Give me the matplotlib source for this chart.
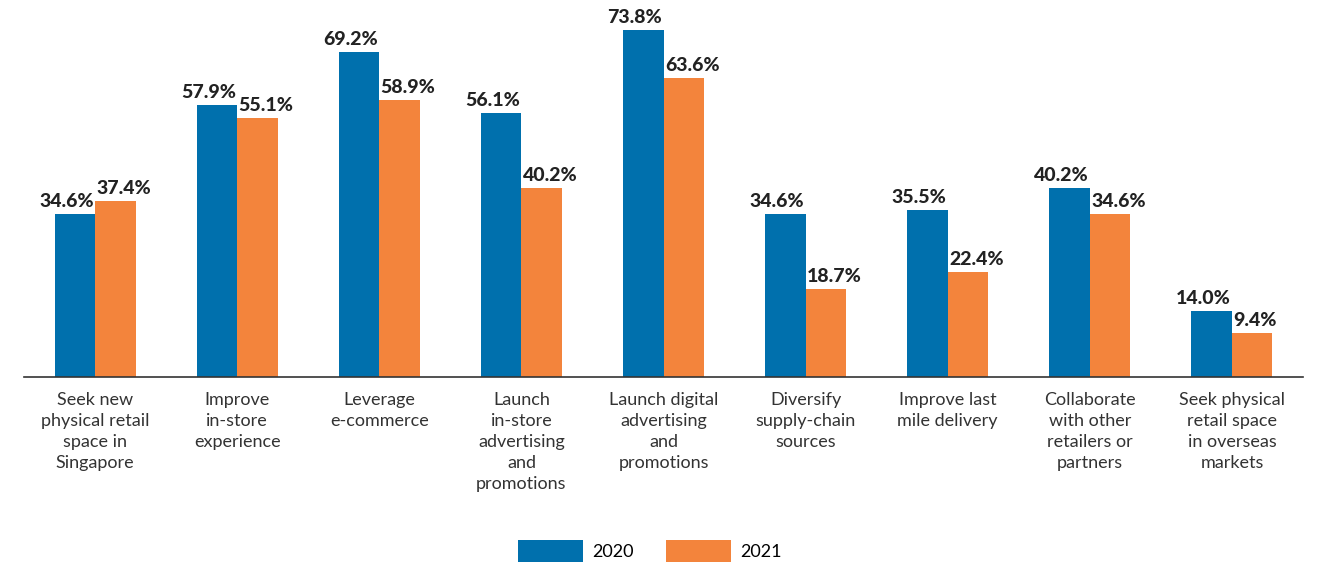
import matplotlib.pyplot as plt
import numpy as np

# Daten
categories = [
    "Seek new\nphysical retail\nspace in\nSingapore",
    "Improve\nin-store\nexperience",
    "Leverage\ne-commerce",
    "Launch\nin-store\nadvertising\nand\npromotions",
    "Launch digital\nadvertising\nand\npromotions",
    "Diversify\nsupply-chain\nsources",
    "Improve last\nmile delivery",
    "Collaborate\nwith other\nretailers or\npartners",
    "Seek physical\nretail space\nin overseas\nmarkets",
]
values_2020 = [34.6, 57.9, 69.2, 56.1, 73.8, 34.6, 35.5, 40.2, 14.0]
values_2021 = [37.4, 55.1, 58.9, 40.2, 63.6, 18.7, 22.4, 34.6, 9.4]
series_names = ["2020", "2021"]

blue = "#0070ad"
orange = "#f3843c"
W, H = 1317, 566

fig = plt.figure(figsize=(W / 100, H / 100), dpi=100)
ax = fig.add_axes([24 / W, (H - 377) / H, 1279 / W, (377 - 20) / H])

x = np.arange(len(categories))
bw = 0.285
b1 = ax.bar(x - bw / 2, values_2020, bw, color=blue, label=series_names[0])
b2 = ax.bar(x + bw / 2, values_2021, bw, color=orange, label=series_names[1])

# Wertbeschriftungen
for xi, v in zip(x, values_2020):
    ax.annotate(f"{v:.1f}%", (xi, v), xytext=(-1, 3), textcoords="offset points",
                ha="right", va="bottom", fontsize=14, fontweight="black",
                family="Lato", color="#222222")
for xi, v in zip(x, values_2021):
    ax.annotate(f"{v:.1f}%", (xi, v), xytext=(1, 3), textcoords="offset points",
                ha="left", va="bottom", fontsize=14, fontweight="black",
                family="Lato", color="#222222")

ax.set_xlim(-0.5, len(categories) - 0.5)
ax.set_ylim(0, 76)
ax.set_xticks(x)
ax.set_xticklabels(categories, fontsize=13, family="Lato", color="#333333",
                   linespacing=1.38)
ax.tick_params(axis="x", length=0, pad=11)
ax.set_yticks([])
for s in ["top", "right", "left"]:
    ax.spines[s].set_visible(False)
ax.spines["bottom"].set_color("#333333")
ax.spines["bottom"].set_linewidth(1.2)

fig.legend(handles=[b1, b2], loc="center", bbox_to_anchor=(650 / W, 1 - 551 / H),
           ncol=2, frameon=False, handlelength=3.6, handleheight=1.5,
           columnspacing=1.8, handletextpad=0.5,
           prop={"family": "Lato", "size": 13})

fig.savefig("out.png", dpi=100)
